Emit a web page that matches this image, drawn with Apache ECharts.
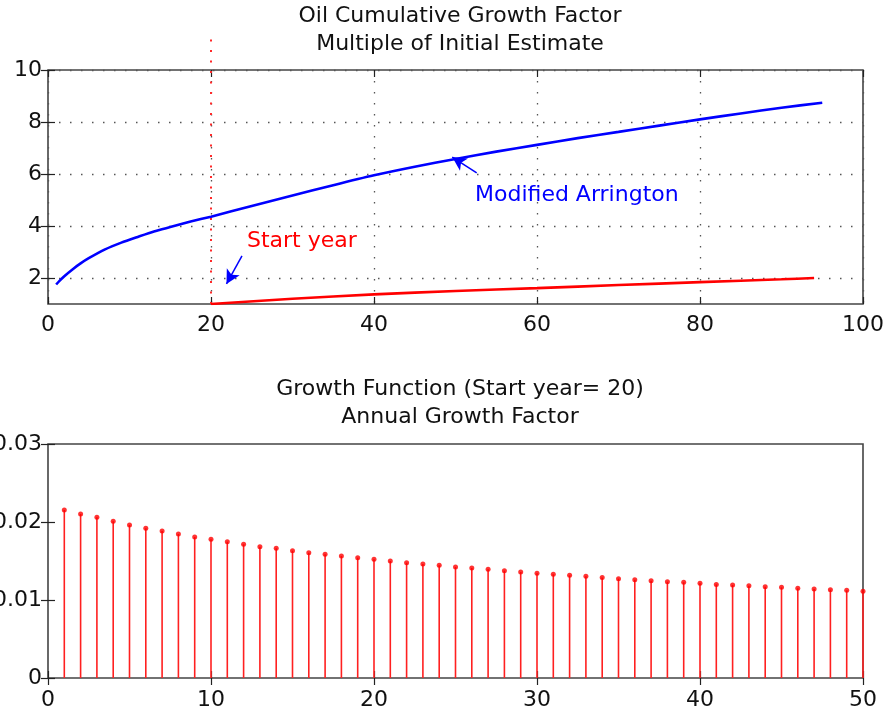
<!DOCTYPE html>
<html><head><meta charset="utf-8">
<script src="https://cdn.jsdelivr.net/npm/echarts@6/dist/echarts.min.js"></script>
<style>html,body{margin:0;padding:0;background:#fff}#c{width:886px;height:719px}</style>
</head><body><div id="c"></div>
<script>
// ---- data ----
const yearsCum   = [1, 1.5, 2, 3, 4, 5, 7, 9, 11, 13, 15, 17.5, 20, 25, 30, 35, 40, 45, 50, 55, 60, 65, 70, 75, 80, 85, 90, 95];
const arrington  = [1.75, 1.92, 2.07, 2.33, 2.56, 2.76, 3.10, 3.36, 3.58, 3.79, 3.96, 4.17, 4.36, 4.77, 5.17, 5.57, 5.95, 6.28, 6.58, 6.86, 7.12, 7.38, 7.62, 7.86, 8.10, 8.33, 8.55, 8.74];
const startX     = [20, 30, 40, 50, 60, 70, 80, 90, 94];
const startY     = [1.0, 1.2, 1.37, 1.5, 1.61, 1.73, 1.84, 1.95, 2.0];
const startYear  = 20;
const startLineY = [1, 11.4];
const growthYears = [1,2,3,4,5,6,7,8,9,10,11,12,13,14,15,16,17,18,19,20,21,22,23,24,25,26,27,28,29,30,31,32,33,34,35,36,37,38,39,40,41,42,43,44,45,46,47,48,49,50];
const growthFactor = [0.02154,0.02103,0.0206,0.0201,0.01962,0.01919,0.01885,0.01846,0.01808,0.01778,
  0.01748,0.01714,0.01684,0.01662,0.01632,0.01607,0.01585,0.01564,0.01543,0.01521,
  0.0150,0.01479,0.01462,0.01444,0.01423,0.0141,0.01393,0.01376,0.01359,0.01342,
  0.0133,0.01316,0.01303,0.0129,0.01274,0.0126,0.01248,0.01235,0.01227,0.01214,
  0.0120,0.01192,0.01184,0.0117,0.01162,0.0115,0.01141,0.01132,0.01124,0.01111];
const topYTicks = [2, 4, 6, 8, 10];
const titleTop = 'Oil Cumulative Growth Factor\nMultiple of Initial Estimate';
const titleBottom = 'Growth Function (Start year= 20)\nAnnual Growth Factor';
const arrowArrington = [[52.6, 6.04], [49.6, 6.65]];
const arrowStart = [[23.8, 2.85], [21.9, 1.77]];

// ---- chart ----
const FONT = 'DejaVu Sans';
const FS = 22;
const chart = echarts.init(document.getElementById('c'), null, {renderer: 'canvas'});
const tick = {show: true, inside: true, length: 7, lineStyle: {color: '#222', width: 1.2}};
const noLine = {show: false};
const lbl = (m) => ({fontFamily: FONT, fontSize: FS, color: '#111', margin: m});
const dotGrid = {show: true, lineStyle: {color: '#555', width: 1.3, type: [1.5, 9.5]}};
const zip = (a, b) => a.map((v, i) => [v, b[i]]);
const gridBase = {left: 48, right: 23, height: 234, show: true, borderColor: '#444', borderWidth: 1.6,
  backgroundColor: 'transparent', containLabel: false, outerBoundsMode: 'none'};

chart.setOption({
  animation: false,
  backgroundColor: '#fff',
  title: [
    {text: titleTop, left: 455, top: -3, textAlign: 'center',
     textStyle: {fontFamily: FONT, fontSize: FS, fontWeight: 'normal', color: '#111', lineHeight: 28}},
    {text: titleBottom, left: 455, top: 370, textAlign: 'center',
     textStyle: {fontFamily: FONT, fontSize: FS, fontWeight: 'normal', color: '#111', lineHeight: 28}}
  ],
  grid: [
    Object.assign({top: 70}, gridBase),
    Object.assign({top: 444}, gridBase)
  ],
  xAxis: [
    {gridIndex: 0, type: 'value', min: 0, max: 100, interval: 20, position: 'bottom',
     axisLine: noLine, axisTick: tick, axisLabel: lbl(10), splitLine: dotGrid},
    {gridIndex: 0, type: 'value', min: 0, max: 100, interval: 20, position: 'top',
     axisLine: noLine, axisTick: tick, axisLabel: {show: false}, splitLine: {show: false}},
    {gridIndex: 1, type: 'value', min: 0, max: 50, interval: 10, position: 'bottom',
     axisLine: noLine, axisTick: tick, axisLabel: lbl(11), splitLine: {show: false}},
    {gridIndex: 1, type: 'value', min: 0, max: 50, interval: 10, position: 'top',
     axisLine: noLine, axisTick: tick, axisLabel: {show: false}, splitLine: {show: false}}
  ],
  yAxis: [
    {gridIndex: 0, type: 'value', min: 1, max: 10, position: 'left',
     axisLine: noLine, axisTick: Object.assign({customValues: topYTicks}, tick),
     axisLabel: Object.assign({customValues: topYTicks}, lbl(6)), splitLine: dotGrid},
    {gridIndex: 0, type: 'value', min: 1, max: 10, position: 'right',
     axisLine: noLine, axisTick: Object.assign({customValues: topYTicks}, tick),
     axisLabel: {show: false}, splitLine: {show: false}},
    {gridIndex: 1, type: 'value', min: 0, max: 0.03, interval: 0.01, position: 'left',
     axisLine: noLine, axisTick: tick, axisLabel: lbl(6), splitLine: {show: false}},
    {gridIndex: 1, type: 'value', min: 0, max: 0.03, interval: 0.01, position: 'right',
     axisLine: noLine, axisTick: tick, axisLabel: {show: false}, splitLine: {show: false}}
  ],
  series: [
    {type: 'line', xAxisIndex: 0, yAxisIndex: 0, data: [[startYear, startLineY[0]], [startYear, startLineY[1]]],
     clip: false, showSymbol: false, silent: true, z: 3,
     lineStyle: {color: '#ff2a2a', width: 2, type: [2, 8.5]}},
    {name: 'Modified Arrington', type: 'line', xAxisIndex: 0, yAxisIndex: 0,
     data: zip(yearsCum, arrington), smooth: 0.25, showSymbol: false, z: 4,
     lineStyle: {color: '#0000ff', width: 2.6},
     markLine: {silent: true, symbol: ['none', 'arrow'], symbolSize: [11, 14], label: {show: false},
       lineStyle: {color: '#0000ff', width: 1.5, type: 'solid'},
       data: [
         [{coord: arrowArrington[0]}, {coord: arrowArrington[1]}],
         [{coord: arrowStart[0]}, {coord: arrowStart[1]}]
       ]}},
    {name: 'Start year', type: 'line', xAxisIndex: 0, yAxisIndex: 0,
     data: zip(startX, startY), smooth: 0.2, showSymbol: false, z: 4,
     lineStyle: {color: '#ff0000', width: 2.6}},
    {type: 'bar', xAxisIndex: 2, yAxisIndex: 2, data: zip(growthYears, growthFactor),
     barWidth: 1.6, itemStyle: {color: '#ff2020'}, silent: true},
    {type: 'scatter', xAxisIndex: 2, yAxisIndex: 2, data: zip(growthYears, growthFactor),
     symbol: 'circle', symbolSize: 5, itemStyle: {color: '#ff0000'}, clip: false, silent: true}
  ],
  graphic: [
    {type: 'text', left: 247, top: 230, style: {text: 'Start year', fontFamily: FONT, fontSize: FS, fill: '#ff0000'}},
    {type: 'text', left: 475, top: 184, style: {text: 'Modified Arrington', fontFamily: FONT, fontSize: FS, fill: '#0000ff'}}
  ]
});
</script>
</body></html>
